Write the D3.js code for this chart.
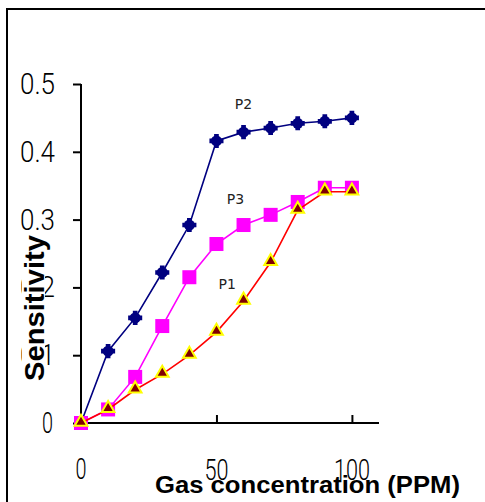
<!DOCTYPE html>
<html>
<head>
<script src="https://d3js.org/d3.v7.min.js"></script>
<style>
  body { margin: 0; background: #fff; }
  svg { display: block; }
  .tick-lab { font-family: Roboto, "Liberation Sans", Arial, sans-serif; font-weight: 300; fill: #000; }
</style>
</head>
<body>
<div id="chart"></div>
<script>
  // data
  var conc = [0, 10, 20, 30, 40, 50, 60, 70, 80, 90, 100];
  var p1 = [0, 0.02, 0.049, 0.072, 0.1, 0.134, 0.18, 0.237, 0.314, 0.341, 0.341];
  var p2 = [0, 0.106, 0.155, 0.222, 0.292, 0.416, 0.429, 0.435, 0.442, 0.445, 0.45];
  var p3 = [0, 0.02, 0.068, 0.143, 0.215, 0.264, 0.292, 0.307, 0.326, 0.347, 0.347];
  var yTicks = [0, 0.1, 0.2, 0.3, 0.4, 0.5];
  var xTicks = [0, 50, 100];

  var W = 485, H = 502;
  var svg = d3.select("#chart").append("svg")
    .attr("width", W)
    .attr("height", H);

  // outer frame (only top and left show)
  svg.append("path")
    .attr("d", "M7,502 V9 H485")
    .attr("fill", "none")
    .attr("stroke", "#000")
    .attr("stroke-width", 2);

  var x = d3.scaleLinear().domain([0, 110]).range([81, 379]);
  var y = d3.scaleLinear().domain([0, 0.5]).range([423, 84]);

  // y axis
  var yAxis = svg.append("g").attr("transform", "translate(81,0)")
    .call(d3.axisLeft(y).tickValues(yTicks).tickSize(8).tickFormat(""));
  yAxis.select(".domain").attr("d", "M0," + y(0.5) + "V" + y(0));
  yAxis.selectAll("path, line").attr("stroke", "#000").attr("stroke-width", 2);

  // x axis, ticks point up
  var xAxis = svg.append("g").attr("transform", "translate(0," + y(0) + ")")
    .call(d3.axisBottom(x).tickValues([50, 100]).tickSize(-8).tickFormat(""));
  xAxis.select(".domain").attr("d", "M" + x(0) + ",0H" + x(110));
  xAxis.selectAll("path, line").attr("stroke", "#000").attr("stroke-width", 2);

  // y tick labels (condensed look)
  svg.selectAll(".ylab").data(yTicks).enter().append("text")
    .attr("class", "tick-lab")
    .attr("x", function(d) { return d === 0 ? 53 : 55; })
    .attr("y", function(d) { return y(d) + 10; })
    .attr("text-anchor", "end")
    .attr("font-size", 29)
    .attr("textLength", function(d) { return d === 0 ? 11 : 35; })
    .attr("lengthAdjust", "spacingAndGlyphs")
    .text(function(d) { return d === 0 ? "0" : d3.format(".1f")(d); });

  // x tick labels
  svg.selectAll(".xlab").data(xTicks).enter().append("text")
    .attr("class", "tick-lab")
    .attr("x", function(d) { return x(d); })
    .attr("y", function(d) { return d === 0 ? 479 : 480; })
    .attr("text-anchor", "middle")
    .attr("font-size", 29)
    .attr("textLength", function(d) { return d === 0 ? 11 : (d === 50 ? 24 : 36); })
    .attr("lengthAdjust", "spacingAndGlyphs")
    .text(function(d) { return d; });

  // y title with white box behind it
  var yTitle = svg.append("g").attr("transform", "translate(34,308) rotate(-90)");
  yTitle.append("rect")
    .attr("x", -74).attr("y", -12).attr("width", 148).attr("height", 23)
    .attr("fill", "#fff");
  yTitle.append("text")
    .attr("text-anchor", "middle")
    .attr("y", 10)
    .attr("font-family", "Liberation Sans, Arial, sans-serif")
    .attr("font-weight", "bold")
    .attr("font-size", 28)
    .attr("textLength", 146)
    .attr("lengthAdjust", "spacingAndGlyphs")
    .text("Sensitivity");

  // x title
  svg.append("text")
    .attr("x", 155)
    .attr("y", 493)
    .attr("font-family", "Liberation Sans, Arial, sans-serif")
    .attr("font-weight", "bold")
    .attr("font-size", 24)
    .attr("textLength", 305)
    .attr("lengthAdjust", "spacingAndGlyphs")
    .text("Gas concentration  (PPM)");

  var line = d3.line()
    .x(function(d, i) { return x(conc[i]); })
    .y(function(d) { return y(d); });

  // P2
  svg.append("path").datum(p2)
    .attr("d", line).attr("fill", "none")
    .attr("stroke", "#000080").attr("stroke-width", 1.6);
  var starSym = d3.symbol().type(d3.symbolCross).size(110);
  svg.selectAll(".m2").data(p2).enter().append("g")
    .attr("transform", function(d, i) { return "translate(" + x(conc[i]) + "," + y(d) + ")"; })
    .each(function() {
      d3.select(this).append("circle").attr("r", 5.5).attr("fill", "#000080");
      d3.select(this).append("path").attr("d", starSym).attr("fill", "#000080");
    });

  // P3
  svg.append("path").datum(p3)
    .attr("d", line).attr("fill", "none")
    .attr("stroke", "#ff00ff").attr("stroke-width", 1.6);
  svg.selectAll(".m3").data(p3).enter().append("rect")
    .attr("x", function(d, i) { return x(conc[i]) - 7; })
    .attr("y", function(d) { return y(d) - 7; })
    .attr("width", 14).attr("height", 14)
    .attr("fill", "#ff00ff");

  // P1
  svg.append("path").datum(p1)
    .attr("d", line).attr("fill", "none")
    .attr("stroke", "#ff0000").attr("stroke-width", 1.6);
  var tri = d3.symbol().type(d3.symbolTriangle).size(70);
  svg.selectAll(".m1").data(p1).enter().append("path")
    .attr("d", tri)
    .attr("transform", function(d, i) { return "translate(" + x(conc[i]) + "," + (y(d) - 1) + ")"; })
    .attr("fill", "#800000")
    .attr("stroke", "#ffff00")
    .attr("stroke-width", 2);

  // series labels
  var labs = [["P2", 60, 0.47], ["P3", 57, 0.33], ["P1", 54, 0.205]];
  svg.selectAll(".slab").data(labs).enter().append("text")
    .attr("x", function(d) { return x(d[1]); })
    .attr("y", function(d) { return y(d[2]) + 5; })
    .attr("text-anchor", "middle")
    .attr("font-family", "DejaVu Sans, Verdana, sans-serif")
    .attr("font-size", 14)
    .attr("fill", "#222")
    .text(function(d) { return d[0]; });
</script>
</body>
</html>
